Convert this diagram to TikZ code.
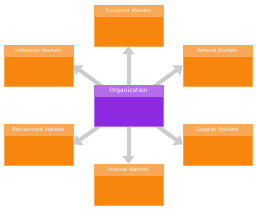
\documentclass[tikz,border=0pt]{standalone}
\usepackage{fontspec}
\setmainfont{DejaVu Sans}
\definecolor{mkorange}{RGB}{247,134,15}
\definecolor{mkorangelt}{RGB}{249,168,88}
\definecolor{mkpurple}{RGB}{141,41,224}
\definecolor{mkpurplelt}{RGB}{178,108,236}
\definecolor{mkgray}{RGB}{204,204,204}
\usetikzlibrary{arrows.meta,positioning,backgrounds}

\begin{document}
\begin{tikzpicture}[
  x=1pt,y=-1pt,
  every node/.style={font=\fontsize{5}{6}\selectfont,text=white},
  mktbox/.style={draw=mkorangelt,fill=mkorange,line width=0.4pt,
                 minimum width=69pt,minimum height=41pt,inner sep=0pt},
  mkthead/.style={fill=mkorangelt,minimum width=69pt,minimum height=12pt,
                  inner sep=0pt,anchor=north},
  link/.style={-{Triangle[width=12pt,length=8pt]},line width=4pt,draw=mkgray},
]
  \useasboundingbox (0,0) rectangle (256,209);

  % Top row
  \node[mktbox] (cust) at (128.5,25.5) {};
  \node[mkthead] at (cust.north) {Customer Markets};

  % Upper side boxes
  \node[mktbox] (infl) at (38.5,65.5) {};
  \node[mkthead] at (infl.north) {Influencer Markets};
  \node[mktbox] (refr) at (217.5,65.5) {};
  \node[mkthead] at (refr.north) {Referral Markets};

  % Centre: the organization
  \node[draw=mkpurplelt,fill=mkpurple,minimum width=69pt,minimum height=41pt,
        inner sep=0pt] (org) at (128.5,105.5) {};
  \node[fill=mkpurplelt,minimum width=69pt,minimum height=12pt,inner sep=0pt,
        anchor=north,font=\fontsize{6}{7}\selectfont] at (org.north) {Organization};

  % Lower side boxes
  \node[mktbox] (recr) at (38.5,144.5) {};
  \node[mkthead] at (recr.north) {Recruitment Markets};
  \node[mktbox] (supp) at (217.5,144.5) {};
  \node[mkthead] at (supp.north) {Supplier Markets};

  % Bottom row
  \node[mktbox] (intl) at (128.5,184.5) {};
  \node[mkthead] at (intl.north) {Internal Markets};

  % Connectors, behind the boxes
  \begin{scope}[on background layer]
    \draw[link] (org.center) -- (cust.south);
    \draw[link] (org.center) -- (infl.east);
    \draw[link] (org.center) -- (refr.west);
    \draw[link] (org.center) -- (recr.east);
    \draw[link] (org.center) -- (supp.west);
    \draw[link] (org.center) -- (intl.north);
  \end{scope}
\end{tikzpicture}
\end{document}
